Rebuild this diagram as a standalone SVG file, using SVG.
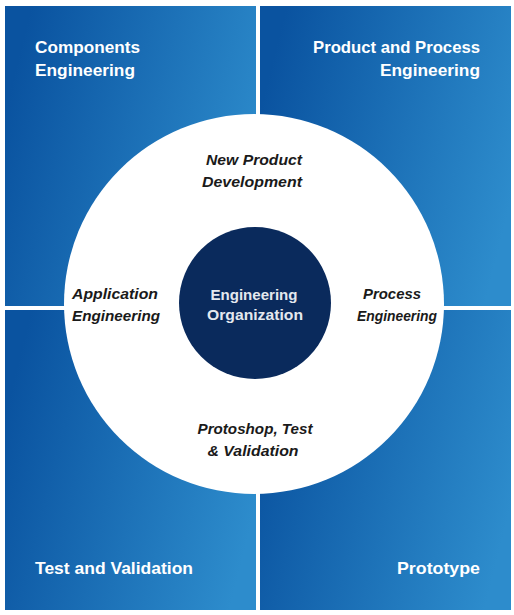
<svg xmlns="http://www.w3.org/2000/svg" width="514" height="615" viewBox="0 0 514 615">
<defs>
<linearGradient id="qg" x1="0" y1="0.35" x2="1" y2="0.65">
<stop offset="0" stop-color="#0a53a0"/>
<stop offset="1" stop-color="#2d8ccc"/>
</linearGradient>
<style>
.q{fill:url(#qg)}
.ql{font-family:"Liberation Sans",Arial,sans-serif;font-weight:bold;font-size:17px;fill:#ffffff}
.il{font-family:"Liberation Sans",Arial,sans-serif;font-style:italic;font-weight:bold;font-size:15px;fill:#1a1a1a;text-anchor:middle}
.cl{font-family:"Liberation Sans",Arial,sans-serif;font-weight:bold;font-size:15px;fill:#e4e8ef;text-anchor:middle}
</style>
</defs>
<rect width="514" height="615" fill="#ffffff"/>
<g id="q-components">
<rect class="q" x="5" y="6" width="251" height="300"/>
<text class="ql" x="35" y="53" textLength="105" lengthAdjust="spacingAndGlyphs">Components</text>
<text class="ql" x="35" y="76" textLength="100" lengthAdjust="spacingAndGlyphs">Engineering</text>
</g>
<g id="q-product">
<rect class="q" x="260" y="6" width="251" height="300"/>
<text class="ql" x="480" y="53" text-anchor="end" textLength="167" lengthAdjust="spacingAndGlyphs">Product and Process</text>
<text class="ql" x="480" y="76" text-anchor="end" textLength="100" lengthAdjust="spacingAndGlyphs">Engineering</text>
</g>
<g id="q-test">
<rect class="q" x="5" y="310" width="251" height="300"/>
<text class="ql" x="35" y="574" textLength="158" lengthAdjust="spacingAndGlyphs">Test and Validation</text>
</g>
<g id="q-prototype">
<rect class="q" x="260" y="310" width="251" height="300"/>
<text class="ql" x="480" y="574" text-anchor="end" textLength="83" lengthAdjust="spacingAndGlyphs">Prototype</text>
</g>
<g id="ring">
<circle cx="254" cy="304" r="190" fill="#ffffff"/>
<text class="il" x="254" y="165" textLength="96" lengthAdjust="spacingAndGlyphs">New Product</text>
<text class="il" x="252" y="187" textLength="100" lengthAdjust="spacingAndGlyphs">Development</text>
<text class="il" x="115" y="299" textLength="86" lengthAdjust="spacingAndGlyphs">Application</text>
<text class="il" x="116" y="321" textLength="88" lengthAdjust="spacingAndGlyphs">Engineering</text>
<text class="il" x="421" y="299" style="text-anchor:end" textLength="58" lengthAdjust="spacingAndGlyphs">Process</text>
<text class="il" x="437" y="321" style="text-anchor:end" textLength="80" lengthAdjust="spacingAndGlyphs">Engineering</text>
<text class="il" x="255" y="434" textLength="115" lengthAdjust="spacingAndGlyphs">Protoshop, Test</text>
<text class="il" x="253" y="456" textLength="91" lengthAdjust="spacingAndGlyphs">&amp; Validation</text>
</g>
<g id="center">
<circle cx="255" cy="303" r="76" fill="#0a2a5c"/>
<text class="cl" x="254" y="300" textLength="87" lengthAdjust="spacingAndGlyphs">Engineering</text>
<text class="cl" x="255" y="320" textLength="96" lengthAdjust="spacingAndGlyphs">Organization</text>
</g>
</svg>
